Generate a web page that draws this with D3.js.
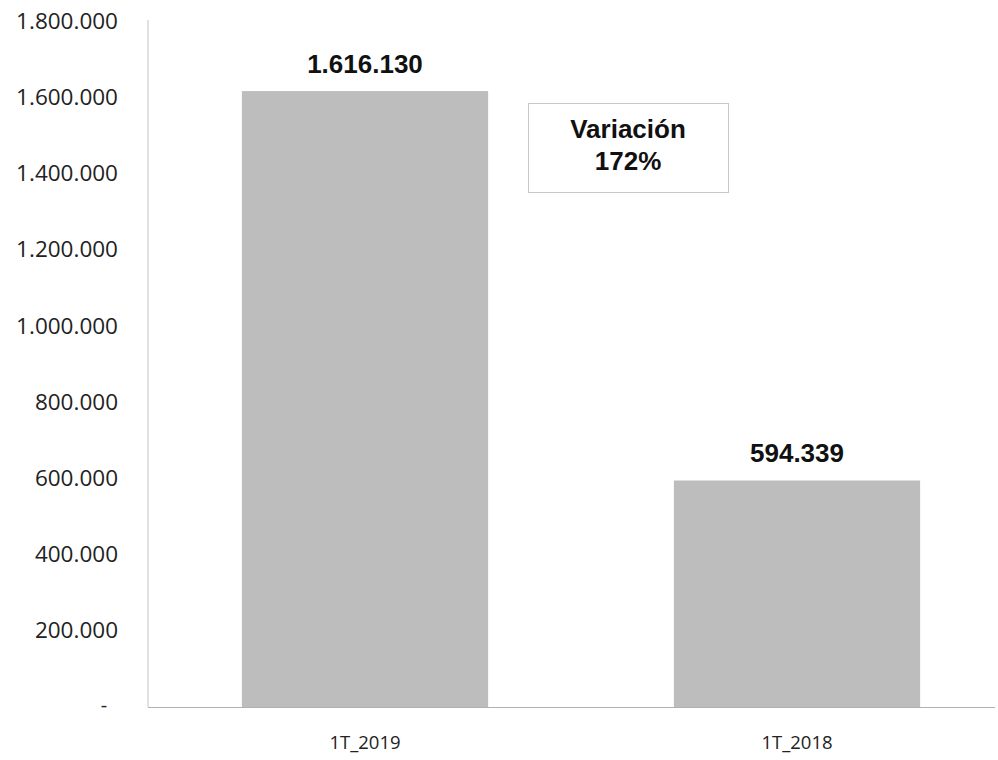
<!DOCTYPE html>
<html><head><meta charset="utf-8">
<script src="https://cdn.jsdelivr.net/npm/d3@7"></script>
<style>body{margin:0;background:#fff;}</style>
</head><body>
<svg id="c" width="998" height="760"></svg>
<script>
const categories = ["1T_2019", "1T_2018"];
const values = [1616130, 594339];
const yTicks = [200000, 400000, 600000, 800000, 1000000, 1200000, 1400000, 1600000, 1800000];
const noteLines = ["Variación", "172%"];

const svg = d3.select("#c");
const fmt = v => d3.format(",")(v).replace(/,/g, ".");
const y = d3.scaleLinear().domain([0, 1800000]).range([707, 21]);
const x = d3.scaleBand().domain(categories).range([149, 1013]).paddingInner(0.43).paddingOuter(0.215);

// bars
svg.selectAll("rect.bar").data(values).enter().append("rect")
  .attr("class","bar")
  .attr("x",(d,i)=>x(categories[i]))
  .attr("width",x.bandwidth())
  .attr("y",d=>y(d))
  .attr("height",d=>y(0)-y(d))
  .attr("fill","#bdbdbd");

// axis lines
svg.append("line").attr("x1",148).attr("x2",148).attr("y1",20).attr("y2",707)
  .attr("stroke","#c4c4c4").attr("stroke-width",1);
svg.append("line").attr("x1",148).attr("x2",995).attr("y1",707.5).attr("y2",707.5)
  .attr("stroke","#b0b0b0").attr("stroke-width",1.2);

// y tick labels
const yAxis = d3.axisLeft(y).tickValues(yTicks).tickFormat(fmt).tickSize(0).tickPadding(30);
const ga = svg.append("g").attr("transform","translate(148,0)").call(yAxis);
ga.select(".domain").remove();
ga.selectAll("text").attr("font-family","'Open Sans', 'Noto Sans', sans-serif")
  .attr("font-size","22.5px").attr("fill","#222");
// zero tick dash
svg.append("text").attr("x",104).attr("y",y(0)+5).attr("text-anchor","middle")
  .attr("font-family","'Open Sans', sans-serif").attr("font-size","20px").attr("fill","#222").text("-");

// x labels
const xAxis = d3.axisBottom(x).tickSize(0).tickPadding(29);
const gx = svg.append("g").attr("transform","translate(0,707)").call(xAxis);
gx.select(".domain").remove();
gx.selectAll("text").attr("font-family","'Open Sans', 'Noto Sans', sans-serif")
  .attr("font-size","18.5px").attr("fill","#222");

// value labels
svg.selectAll("text.val").data(values).enter().append("text")
  .attr("class","val")
  .attr("x",(d,i)=>x(categories[i])+x.bandwidth()/2)
  .attr("y",d=>y(d)-18)
  .attr("text-anchor","middle")
  .attr("font-family","'Liberation Sans', Arial, sans-serif")
  .attr("font-weight","bold").attr("font-size","26px").attr("fill","#111")
  .text(fmt);

// note box
svg.append("rect").attr("x",528.5).attr("y",103.5).attr("width",200).attr("height",89)
  .attr("fill","#fff").attr("stroke","#c8c8c8").attr("stroke-width",1);
svg.selectAll("text.note").data(noteLines).enter().append("text")
  .attr("class","note")
  .attr("x",628).attr("y",(d,i)=>138+i*32)
  .attr("text-anchor","middle")
  .attr("font-family","'Liberation Sans', Arial, sans-serif")
  .attr("font-weight","bold").attr("font-size","26px").attr("fill","#111")
  .text(d=>d);
</script>
</body></html>
